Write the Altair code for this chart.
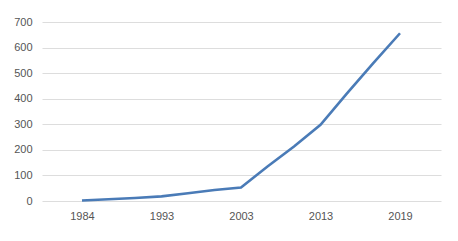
import altair as alt
import pandas as pd

years = ["1984", "1987", "1990", "1993", "1996", "2000", "2003",
         "2006", "2010", "2013", "2015", "2017", "2019"]
values = [2, 7, 12, 18, 30, 43, 53, 135, 213, 298, 421, 540, 656]
shown_labels = ["1984", "1993", "2003", "2013", "2019"]
y_ticks = [0, 100, 200, 300, 400, 500, 600, 700]

df = pd.DataFrame({"year": years, "value": values, "idx": list(range(len(years)))})

year_list = ",".join("'" + s + "'" for s in years)
shown_idx = [years.index(s) for s in shown_labels]

chart = alt.Chart(df).mark_line(color="#4a7bb7", strokeWidth=2.6).encode(
    x=alt.X("idx:Q",
            scale=alt.Scale(domain=[-1.509, 13.547], nice=False, zero=False),
            axis=alt.Axis(title=None, values=shown_idx, ticks=False, domain=False,
                          grid=False, labelPadding=9, labelFontSize=11,
                          labelColor="#555555", labelFont="Liberation Sans",
                          labelExpr="[" + year_list + "][datum.value]")),
    y=alt.Y("value:Q", scale=alt.Scale(domain=[0, 700], nice=False),
            axis=alt.Axis(title=None, values=y_ticks, ticks=False, domain=False,
                          gridColor="#dddddd", gridWidth=1, labelPadding=10,
                          labelFontSize=11, labelColor="#555555",
                          labelFont="Liberation Sans")),
    order="idx:Q",
).properties(
    width=399, height=179,
    autosize=alt.AutoSizeParams(type="none"),
    padding={"left": 34, "top": 14, "right": 9, "bottom": 32},
).configure_view(stroke=None)

chart.save("out.html", embed_options={"renderer": "svg", "actions": False})
